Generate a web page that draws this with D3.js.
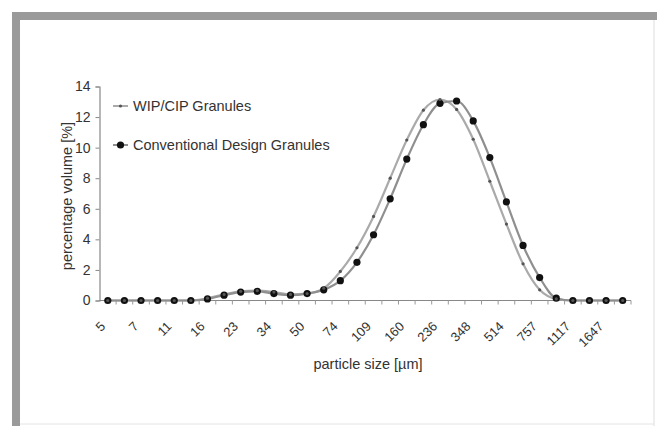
<!DOCTYPE html>
<html>
<head>
<meta charset="utf-8">
<script src="https://cdn.jsdelivr.net/npm/d3@7"></script>
<style>
  body { margin: 0; background: #fff; }
  text { font-family: "Liberation Sans", Arial, sans-serif; fill: #333; }
</style>
</head>
<body>
<svg id="chart" width="657" height="426"></svg>
<script>
// particle size classes [µm], only every other one gets a label
var sizes = [5, 6, 7, 9, 11, 13, 16, 19, 23, 28, 34, 41, 50, 61, 74, 90,
             109, 132, 160, 194, 236, 286, 348, 423, 514, 624, 757, 919, 1117, 1356, 1647, 2000]
var wipCip = [0, 0, 0, 0, 0, 0, 0.15, 0.4, 0.6, 0.65, 0.55, 0.4, 0.45, 0.8, 1.9, 3.45,
              5.5, 8.0, 10.5, 12.45, 13.15, 12.5, 10.55, 7.8, 5.0, 2.4, 0.7, 0.1, 0, 0, 0, 0]
var conventional = [0, 0, 0, 0, 0, 0, 0.1, 0.35, 0.55, 0.6, 0.45, 0.35, 0.45, 0.7, 1.3, 2.5,
                    4.3, 6.65, 9.25, 11.5, 12.9, 13.05, 11.75, 9.35, 6.45, 3.6, 1.5, 0.15, 0, 0, 0, 0]
var yTicks = [0, 2, 4, 6, 8, 10, 12, 14]
var seriesNames = ["WIP/CIP Granules", "Conventional Design Granules"]

var svg = d3.select("#chart")

// picture frame
svg.append("rect").attr("x", 12).attr("y", 12).attr("width", 645).attr("height", 8).attr("fill", "#9a9a9a")
svg.append("rect").attr("x", 12).attr("y", 12).attr("width", 8).attr("height", 414).attr("fill", "#9a9a9a")
svg.append("line").attr("x1", 654).attr("x2", 654).attr("y1", 20).attr("y2", 426).attr("stroke", "#ddd")
svg.append("line").attr("x1", 20).attr("x2", 654).attr("y1", 424).attr("y2", 424).attr("stroke", "#e4e4e4")

var x = d3.scaleBand().domain(d3.range(sizes.length)).range([99.5, 631]).padding(0)
var y = d3.scaleLinear().domain([0, 14]).range([300.5, 86.5])
var cx = function(i) { return x(i) + x.bandwidth() / 2 }

// y axis
var yAxis = svg.append("g").attr("transform", "translate(99.5,0)")
  .call(d3.axisLeft(y).tickValues(yTicks).tickSize(4).tickPadding(5))
yAxis.select(".domain").attr("stroke", "#888").attr("stroke-width", 1.2)
yAxis.selectAll(".tick line").attr("stroke", "#888")
yAxis.selectAll(".tick text").attr("font-size", 14).attr("fill", "#333")
  .style("font-family", "'Liberation Sans', Arial, sans-serif")

// x axis: ticks on the band edges, labels rotated
var xg = svg.append("g")
xg.append("line").attr("x1", 99.5).attr("x2", 631).attr("y1", y(0)).attr("y2", y(0))
  .attr("stroke", "#888").attr("stroke-width", 1.2)
xg.selectAll("line.tk").data(d3.range(1, sizes.length + 1)).enter().append("line")
  .attr("class", "tk")
  .attr("x1", function(i) { return 99.5 + i * x.bandwidth() })
  .attr("x2", function(i) { return 99.5 + i * x.bandwidth() })
  .attr("y1", y(0)).attr("y2", y(0) + 4).attr("stroke", "#999")
xg.selectAll("text").data(d3.range(0, sizes.length, 2)).enter().append("text")
  .attr("transform", function(i) { return "translate(" + (cx(i) - 5) + ",324) rotate(-45)" })
  .attr("text-anchor", "end").attr("dy", "0.35em").attr("font-size", 13)
  .text(function(i) { return sizes[i] })

// axis titles
svg.append("text").attr("x", 368).attr("y", 369).attr("text-anchor", "middle")
  .attr("font-size", 14.5).text("particle size [µm]")
svg.append("text").attr("transform", "translate(72,196) rotate(-90)").attr("text-anchor", "middle")
  .attr("font-size", 14.5).text("percentage volume [%]")

// series
var line = d3.line()
  .x(function(d, i) { return cx(i) })
  .y(function(d) { return y(d) })
  .curve(d3.curveMonotoneX)

svg.append("path").datum(wipCip).attr("d", line)
  .attr("fill", "none").attr("stroke", "#aaa").attr("stroke-width", 2.2)
svg.append("path").datum(conventional).attr("d", line)
  .attr("fill", "none").attr("stroke", "#8f8f8f").attr("stroke-width", 2.2)

svg.selectAll("circle.conv").data(conventional).enter().append("circle")
  .attr("class", "conv").attr("cx", function(d, i) { return cx(i) }).attr("cy", function(d) { return y(d) })
  .attr("r", 3.6).attr("fill", "#111")
svg.selectAll("circle.wip").data(wipCip).enter().append("circle")
  .attr("class", "wip").attr("cx", function(d, i) { return cx(i) }).attr("cy", function(d) { return y(d) })
  .attr("r", 1.6).attr("fill", "#555")

// legend
var legendY = [106, 145]
var legendR = [1.6, 3.6]
var legendFill = ["#555", "#111"]
var legendStroke = ["#aaa", "#8f8f8f"]
seriesNames.forEach(function(name, k) {
  var g = svg.append("g").attr("transform", "translate(0," + legendY[k] + ")")
  g.append("line").attr("x1", 113).attr("x2", 128).attr("stroke", legendStroke[k]).attr("stroke-width", 2)
  g.append("circle").attr("cx", 120.5).attr("r", legendR[k]).attr("fill", legendFill[k])
  g.append("text").attr("x", 133).attr("dy", "0.35em").attr("font-size", 14.5).text(name)
})
</script>
</body>
</html>
